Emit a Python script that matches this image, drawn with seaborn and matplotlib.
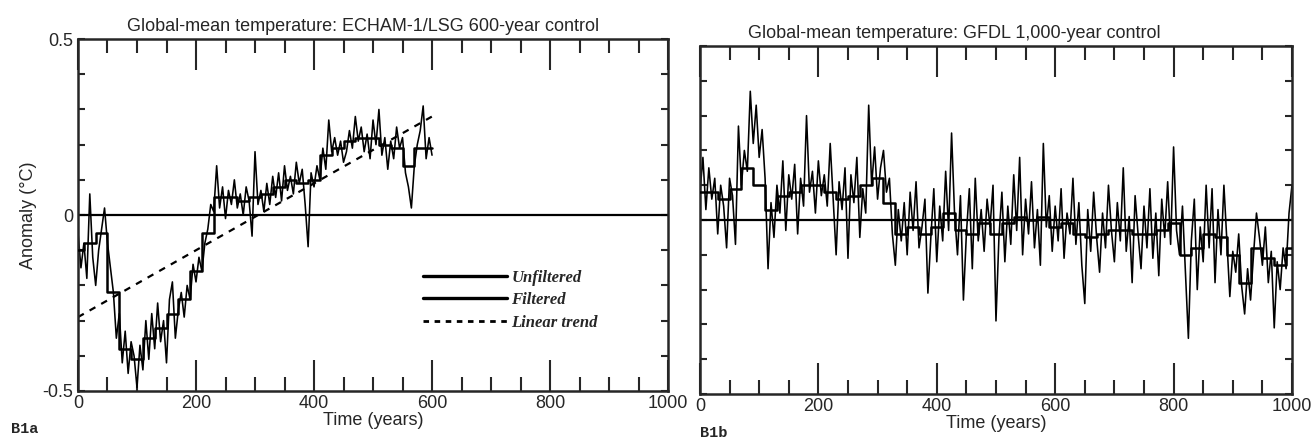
import matplotlib
matplotlib.use("Agg")
import matplotlib.pyplot as plt
import numpy as np
import pandas as pd
import seaborn as sns
from matplotlib.lines import Line2D
from matplotlib.ticker import MultipleLocator

# ------------------------------------------------------------------
# data (every 5 years / every 20 years)
# ------------------------------------------------------------------
echam_years = list(range(0, 601, 5))
echam_unfiltered = [
    -0.05, -0.15, -0.08, -0.18, 0.06, -0.12, -0.20, -0.10, -0.04, 0.02,
    -0.08, -0.15, -0.22, -0.35, -0.28, -0.42, -0.33, -0.45, -0.36, -0.40,
    -0.49, -0.37, -0.44, -0.30, -0.41, -0.28, -0.38, -0.25, -0.36, -0.30,
    -0.42, -0.24, -0.19, -0.35, -0.27, -0.22, -0.29, -0.20, -0.24, -0.14,
    -0.19, -0.12, -0.16, -0.08, -0.04, 0.03, 0.01, 0.14, 0.02, 0.08,
    -0.01, 0.07, 0.03, 0.10, 0.02, 0.06, 0.00, 0.08, 0.04, -0.06,
    0.18, 0.03, 0.07, 0.01, 0.09, 0.03, 0.11, 0.05, 0.12, 0.04,
    0.14, 0.07, 0.11, 0.06, 0.15, 0.09, 0.13, 0.03, -0.09, 0.12,
    0.08, 0.14, 0.10, 0.19, 0.13, 0.27, 0.18, 0.22, 0.17, 0.21,
    0.15, 0.18, 0.24, 0.19, 0.28, 0.21, 0.25, 0.18, 0.23, 0.16,
    0.27, 0.20, 0.30, 0.17, 0.22, 0.13, 0.21, 0.16, 0.25, 0.19,
    0.22, 0.12, 0.08, 0.02, 0.14, 0.20, 0.24, 0.31, 0.16, 0.22,
    0.17,
]
echam_filt_years = list(range(0, 601, 20))
echam_filtered = [
    -0.10, -0.08, -0.05, -0.22, -0.38, -0.41, -0.35, -0.32, -0.28, -0.24,
    -0.16, -0.05, 0.05, 0.05, 0.04, 0.05, 0.06, 0.08, 0.10, 0.09,
    0.10, 0.17, 0.19, 0.21, 0.22, 0.22, 0.20, 0.19, 0.14, 0.19,
    0.19,
]
trend_years = [0, 600]
trend_vals = [-0.29, 0.28]

gfdl_years = list(range(0, 1001, 5))
gfdl_unfiltered = [
    0.08, 0.18, 0.03, 0.15, 0.06, 0.12, -0.04, 0.10, 0.04, -0.08,
    0.12, 0.07, -0.07, 0.27, 0.10, 0.20, 0.14, 0.37, 0.22, 0.33,
    0.18, 0.26, 0.12, -0.14, 0.05, -0.05, 0.10, 0.02, 0.17, -0.03,
    0.13, 0.06, 0.16, -0.04, 0.12, 0.04, 0.30, 0.08, 0.14, 0.02,
    0.17, 0.07, 0.13, 0.04, 0.22, 0.06, -0.10, 0.11, 0.03, 0.15,
    -0.11, 0.13, 0.05, 0.18, -0.05, 0.09, 0.02, 0.33, 0.10, 0.21,
    0.06, 0.15, 0.20, 0.08, 0.12, -0.04, -0.13, 0.03, -0.06, 0.05,
    -0.10, 0.08, -0.03, 0.11, -0.08, -0.02, 0.06, -0.21, -0.05, 0.09,
    -0.12, 0.04, -0.06, 0.14, -0.03, 0.25, 0.02, -0.10, 0.07, -0.23,
    -0.04, 0.09, -0.14, 0.12, -0.06, 0.03, -0.09, 0.06, -0.02, 0.10,
    -0.29, -0.05, 0.08, -0.12, 0.04, -0.07, 0.13, -0.03, 0.18, -0.10,
    0.06, -0.04, 0.11, -0.08, 0.03, -0.13, 0.22, -0.02, 0.07, -0.09,
    0.04, -0.06, 0.09, -0.11, 0.02, -0.04, 0.12, -0.07, 0.05, -0.13,
    -0.24, 0.03, -0.09, 0.08, -0.05, -0.15, 0.02, -0.08, 0.10, -0.03,
    -0.12, 0.05, -0.06, 0.15, -0.09, 0.01, -0.18, 0.07, -0.04, -0.14,
    0.04, -0.08, 0.09, -0.11, 0.02, -0.16, 0.06, -0.05, 0.11, -0.07,
    0.21, -0.03, -0.10, 0.04, -0.15, -0.34, -0.06, 0.06, -0.20, -0.02,
    -0.12, 0.10, -0.08, 0.09, -0.18, 0.03, -0.10, 0.10, -0.06, -0.22,
    -0.09, -0.15, -0.04, -0.19, -0.27, -0.14, -0.23, -0.10, 0.02, -0.05,
    -0.13, -0.02, -0.18, -0.09, -0.31, -0.12, -0.20, -0.08, -0.14, 0.02,
    0.10,
]
gfdl_filt_years = list(range(0, 1001, 20))
gfdl_filtered = [
    0.08, 0.08, 0.06, 0.09, 0.15, 0.10, 0.03, 0.07, 0.08, 0.10,
    0.10, 0.08, 0.06, 0.07, 0.10, 0.12, 0.05, -0.04, -0.02, -0.04,
    -0.02, 0.02, -0.03, -0.04, -0.01, -0.04, -0.01, 0.01, 0.00, 0.01,
    -0.02, -0.01, -0.04, -0.05, -0.04, -0.03, -0.03, -0.04, -0.04, -0.03,
    -0.01, -0.10, -0.08, -0.04, -0.05, -0.10, -0.18, -0.08, -0.11, -0.13,
    -0.08,
]

titles = [
    "Global-mean temperature: ECHAM-1/LSG 600-year control",
    "Global-mean temperature: GFDL 1,000-year control",
]
panel_tags = ["B1a", "B1b"]
legend_labels = ["Unfiltered", "Filtered", "Linear trend"]

# ------------------------------------------------------------------
sns.set_style("ticks")
plt.rcParams["font.family"] = ["Liberation Sans", "DejaVu Sans"]

fig = plt.figure(figsize=(13.13, 4.41), dpi=100)
ax1 = fig.add_axes([0.0594, 0.1134, 0.4494, 0.798])
ax2 = fig.add_axes([0.5331, 0.1066, 0.4509, 0.789])

raw1 = pd.DataFrame({"year": echam_years, "anom": echam_unfiltered})
flt1 = pd.DataFrame({"year": echam_filt_years, "anom": echam_filtered})
trd1 = pd.DataFrame({"year": trend_years, "anom": trend_vals})
raw2 = pd.DataFrame({"year": gfdl_years, "anom": gfdl_unfiltered})
flt2 = pd.DataFrame({"year": gfdl_filt_years, "anom": gfdl_filtered})

for ax in (ax1, ax2):
    ax.axhline(0, color="black", lw=1.6, zorder=1)

# линейный тренд рисуем под данными, как в оригинале
sns.lineplot(data=trd1, x="year", y="anom", ax=ax1, color="black", lw=1.6,
             estimator=None, linestyle=(0, (3, 3)), zorder=1)
sns.lineplot(data=raw1, x="year", y="anom", ax=ax1, color="black", lw=1.15,
             estimator=None, zorder=2)
sns.lineplot(data=flt1, x="year", y="anom", ax=ax1, color="black", lw=1.8,
             estimator=None, drawstyle="steps-mid", zorder=3)

sns.lineplot(data=raw2, x="year", y="anom", ax=ax2, color="black", lw=1.15,
             estimator=None, zorder=2)
sns.lineplot(data=flt2, x="year", y="anom", ax=ax2, color="black", lw=1.8,
             estimator=None, drawstyle="steps-mid", zorder=3)

for ax, title, tx in [(ax1, titles[0], 0.483), (ax2, titles[1], 0.43)]:
    ax.set_xlim(0, 1000)
    ax.set_ylim(-0.5, 0.5)
    ax.set_title(title, fontsize=13, x=tx, pad=6)
    ax.set_xticks([0, 200, 400, 600, 800, 1000])
    ax.xaxis.set_minor_locator(MultipleLocator(50))
    ax.set_yticks([-0.5, 0, 0.5])
    ax.yaxis.set_minor_locator(MultipleLocator(0.1))
    ax.tick_params(axis="x", which="major", direction="in", length=22, width=1.5,
                   top=True, bottom=True, labelsize=13, pad=3)
    ax.tick_params(axis="x", which="minor", direction="in", length=10, width=1.5,
                   top=True, bottom=True)
    ax.tick_params(axis="y", which="both", direction="in", length=5, width=1.5,
                   left=True, right=True, labelsize=13)
    for s in ax.spines.values():
        s.set_visible(True)
        s.set_linewidth(1.8)
    ax.set_xlabel("Time (years)", fontsize=13, labelpad=0)

ax1.set_yticklabels(["-0.5", "0", "0.5"])
ax1.set_ylabel("Anomaly (\u00b0C)", fontsize=13, labelpad=4)
ax2.set_ylabel("")
ax2.set_yticklabels([])

# легенда
handles = [
    Line2D([], [], color="black", lw=2.4),
    Line2D([], [], color="black", lw=2.4),
    Line2D([], [], color="black", lw=2.0, linestyle=(0, (2, 2))),
]
ax1.legend(handles, legend_labels, loc="upper left", bbox_to_anchor=(0.585, 0.345),
           frameon=False, handlelength=5.0, handletextpad=0.3, labelspacing=0.4,
           borderpad=0, borderaxespad=0,
           prop={"family": "Liberation Serif", "style": "italic", "weight": "bold", "size": 12})

fig.text(0.008, 0.018, panel_tags[0], fontsize=11, fontweight="bold", family="Liberation Mono")
fig.text(0.533, 0.010, panel_tags[1], fontsize=11, fontweight="bold", family="Liberation Mono")

fig.savefig("out.png", dpi=100)
